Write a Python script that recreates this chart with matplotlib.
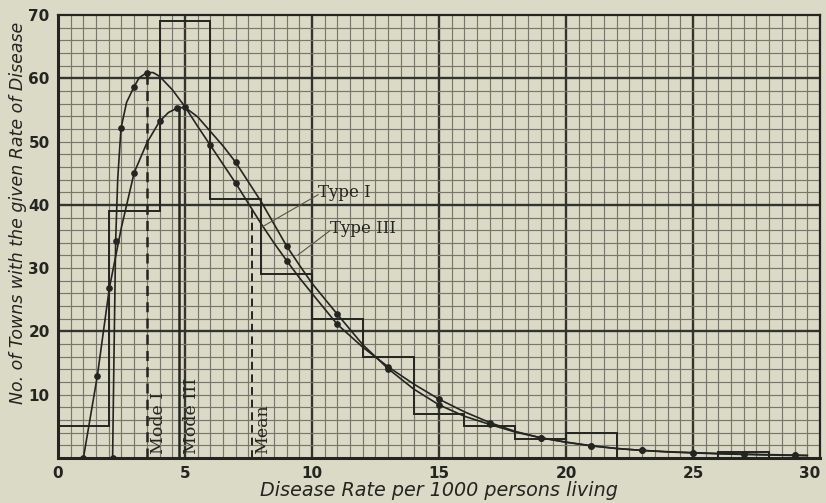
import numpy as np
import matplotlib
matplotlib.use("Agg")
import matplotlib.pyplot as plt

# ---------------- data ----------------
bin_edges = [0, 2, 4, 6, 8, 10, 12, 14, 16, 18, 20, 22, 24, 26, 28]
bin_counts = [5, 39, 69, 41, 29, 22, 16, 7, 5, 3, 4, 0, 0, 1]

type1_x = [2.15, 2.2, 2.27, 2.35, 2.48, 2.7, 3.0, 3.2, 3.5, 3.75, 4.0, 4.5, 5.0,
           5.5, 6.0, 6.5, 7.0, 7.5, 8.0, 8.5, 9.0, 9.5, 10, 11, 12, 13, 14, 15,
           16, 17, 18, 19, 20, 21, 22, 23, 24, 25, 26, 27, 28, 29, 29.5]
type1_y = [0, 15, 34.3, 44, 52.1, 56.2, 58.7, 60.1, 60.9, 60.9, 60.3, 58.2, 55.5,
           52.4, 49.4, 46.4, 43.4, 40.2, 37.0, 34.0, 31.2, 28.5, 26.0, 21.1, 17.5,
           14.4, 11.7, 9.3, 7.3, 5.6, 4.2, 3.2, 2.5, 1.9, 1.5, 1.2, 1.0, 0.85,
           0.72, 0.62, 0.53, 0.46, 0.42]
type1_dots = [2.15, 2.27, 2.48, 3.0, 3.5, 5.0, 6.0, 7.0, 9.0, 11, 13, 15, 17, 19,
              21, 23, 25, 27, 29]

type3_x = [1.0, 1.55, 2.02, 2.5, 3.0, 3.5, 4.0, 4.35, 4.7, 5.0, 5.5, 6.0, 6.5,
           7.0, 7.5, 8.0, 8.5, 9.0, 9.5, 10, 11, 12, 13, 14, 15, 16, 17, 18, 19,
           20, 21, 22, 23, 24, 25, 26, 27, 28, 29, 29.5]
type3_y = [0, 13.0, 26.8, 36.5, 45.1, 49.8, 53.2, 54.6, 55.3, 55.4, 53.9, 51.6,
           49.3, 46.7, 43.6, 40.5, 37.0, 33.5, 30.5, 27.6, 22.7, 17.9, 14.1, 10.9,
           8.4, 6.6, 5.3, 4.1, 3.2, 2.5, 1.95, 1.5, 1.2, 0.95, 0.8, 0.66, 0.56,
           0.47, 0.4, 0.37]
type3_dots = [1.0, 1.55, 2.02, 3.0, 4.0, 4.7, 7.0, 9.0, 11, 13, 15, 17, 19, 21,
              23, 25, 27, 29]

mode1 = 3.5
mode1_height = 60.9
mode3 = 4.76
mode3_height = 55.4
mean = 7.65
mean_height = 39.5

x_ticks = [0, 5, 10, 15, 20, 25, 30]
y_ticks = [10, 20, 30, 40, 50, 60, 70]

# ---------------- style ----------------
paper = "#dbdac6"
ink = "#242420"
grid_minor = "#78776b"
grid_major = "#34342e"

fig = plt.figure(figsize=(8.26, 5.03), dpi=100, facecolor=paper)
ax = fig.add_axes([58 / 826, 1 - 458 / 503, (820 - 58) / 826, (458 - 15) / 503])
ax.set_facecolor(paper)
ax.set_xlim(0, 30)
ax.set_ylim(0, 70)

# graph-paper grid
for gx in np.arange(0.5, 30, 0.5):
    major = abs(gx / 5 - round(gx / 5)) < 1e-9
    ax.axvline(gx, color=grid_major if major else grid_minor,
               lw=1.7 if major else 0.85, zorder=0.5)
for gy in np.arange(2, 70, 2):
    major = gy % 20 == 0
    ax.axhline(gy, color=grid_major if major else grid_minor,
               lw=1.7 if major else 0.85, zorder=0.5)

# histogram outline
ax.stairs(bin_counts, bin_edges, fill=False, color=ink, lw=1.4, zorder=2)

# mode / mean lines
ax.plot([mode1, mode1], [0, mode1_height], color=ink, lw=1.8,
        ls=(0, (4, 2.5)), zorder=2)
ax.plot([mode3, mode3], [0, mode3_height], color=ink, lw=1.8, zorder=2)
ax.plot([mean, mean], [0, mean_height], color=ink, lw=1.4,
        ls=(0, (4, 2.5)), zorder=2)

# fitted curves
t1x = np.array(type1_x)
t3x = np.array(type3_x)
ax.plot(type1_x, type1_y, color=ink, lw=1.2, zorder=3, marker="o", ms=3.8,
        markevery=list(np.where(np.isin(t1x, type1_dots))[0]))
ax.plot(type3_x, type3_y, color=ink, lw=1.2, zorder=3, marker="o", ms=3.8,
        markevery=list(np.where(np.isin(t3x, type3_dots))[0]))

# labels on the chart
serif = "DejaVu Serif"
ax.text(10.24, 42.0, "Type I", family=serif, fontsize=12, color=ink,
        ha="left", va="center", zorder=4)
ax.text(10.7, 36.3, "Type III", family=serif, fontsize=12, color=ink,
        ha="left", va="center", zorder=4)
ax.plot([10.24, 8.03], [41.6, 36.5], color="#55554c", lw=0.8, zorder=3)
ax.plot([10.7, 9.45], [35.9, 32.1], color="#55554c", lw=0.8, zorder=3)

ax.text(3.94, 0.6, "Mode I", family=serif, fontsize=12.5, color=ink,
        rotation=90, ha="center", va="bottom", zorder=4)
ax.text(5.24, 0.6, "Mode III", family=serif, fontsize=12.5, color=ink,
        rotation=90, ha="center", va="bottom", zorder=4)
ax.text(8.07, 0.6, "Mean", family=serif, fontsize=12.5, color=ink,
        rotation=90, ha="center", va="bottom", zorder=4)

# axes
ax.set_xticks(x_ticks)
ax.set_yticks(y_ticks)
ax.set_xticklabels([str(v) for v in x_ticks], fontsize=11, fontweight="bold",
                   color=ink)
ax.set_yticklabels([str(v) for v in y_ticks], fontsize=11, fontweight="bold",
                   color=ink)
ax.get_xticklabels()[-1].set_horizontalalignment("right")
ax.get_xticklabels()[-1].set_x(30.2)
ax.tick_params(length=0, pad=6)
for side, sp in ax.spines.items():
    sp.set_color(ink)
    sp.set_linewidth(2.2 if side in ("left", "bottom") else 1.6)
    sp.set_zorder(5)

fig.text(439 / 826, 1 - 490 / 503, "Disease Rate per 1000 persons living",
         fontsize=13.8, style="italic", color=ink, ha="center", va="center")
fig.text(18 / 826, 1 - 213 / 503, "No. of Towns with the given Rate of Disease",
         fontsize=12.5, style="italic", color=ink, ha="center", va="center",
         rotation=90)

fig.savefig("out.png", dpi=100, facecolor=paper)
